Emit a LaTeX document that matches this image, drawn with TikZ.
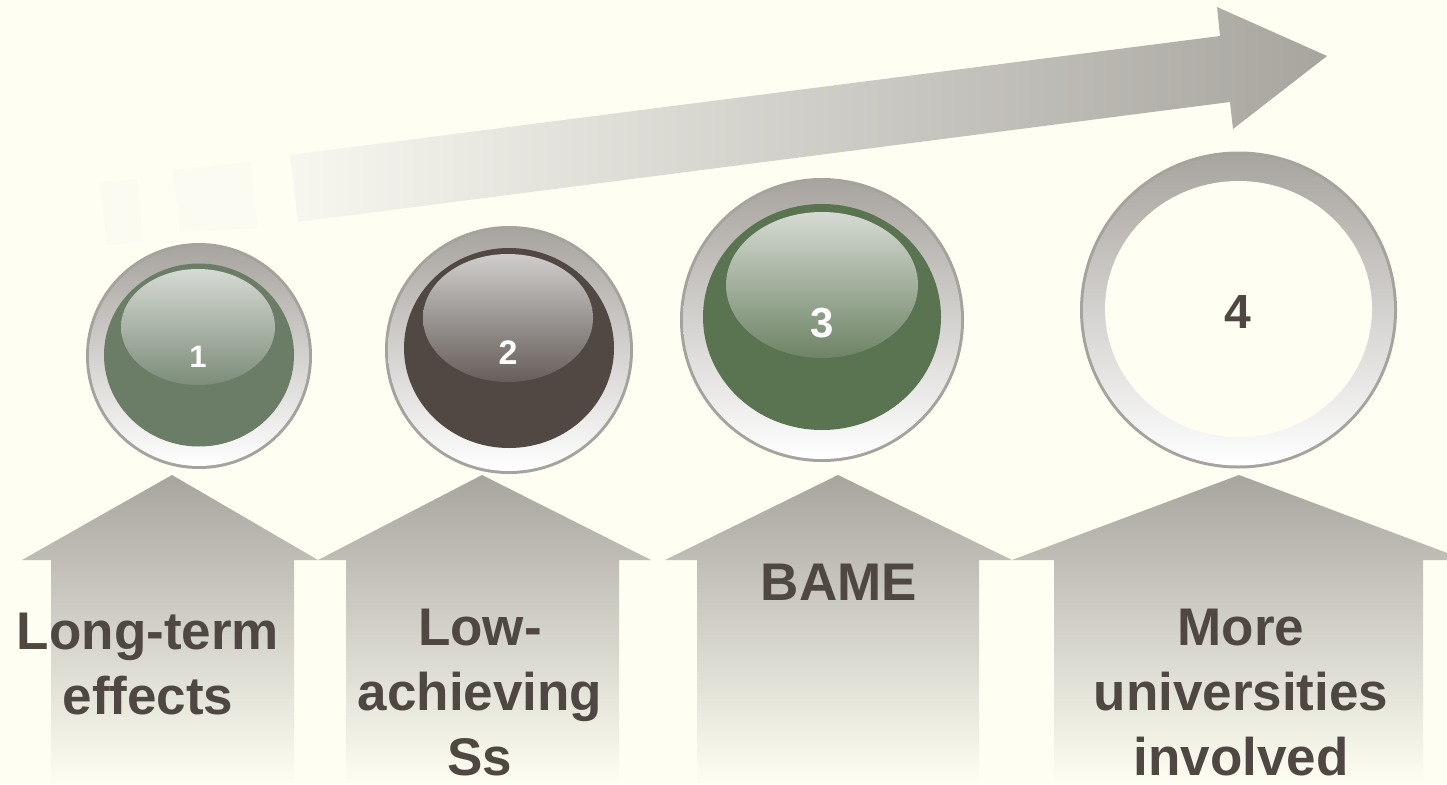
\documentclass[tikz,border=0pt]{standalone}
\usepackage{fontspec}
\setmainfont{Liberation Sans}
\definecolor{bg}{HTML}{FEFEF2}
\definecolor{txt}{HTML}{4F4742}
\definecolor{arrtop}{HTML}{A8A59F}
\definecolor{arrmid}{HTML}{E2E1DA}
\definecolor{bigl}{HTML}{F7F7F0}
\definecolor{bigm}{HTML}{D6D5CF}
\definecolor{ringtop}{HTML}{A8A49F}
\definecolor{ringedge}{HTML}{A6A29D}
\definecolor{baseA}{HTML}{6B7D67}
\definecolor{baseB}{HTML}{514843}
\definecolor{baseC}{HTML}{5A7350}
\definecolor{hlA}{HTML}{D6DAD4}
\definecolor{hlB}{HTML}{CFCDCB}
\definecolor{hlC}{HTML}{D5DAD3}
\definecolor{faint}{HTML}{FBFBF1}
\begin{document}
\begin{tikzpicture}[x=1pt,y=-1pt,
  lbl/.style={font=\bfseries\fontsize{53}{65}\selectfont, text=txt, align=center, inner sep=0pt},
  num/.style={font=\bfseries, inner sep=0pt, anchor=base},
  uparrow/.style={top color=arrtop, middle color=arrmid, bottom color=bg},
  ringouter/.style={fill=ringedge},
  ringinner/.style={top color=ringtop, bottom color=white}]
\fill[bg] (0,0) rectangle (1447,784);
\useasboundingbox (0,0) rectangle (1447,784);

% big rising arrow
\fill[faint] (100,182) -- (137,179) -- (143,242) -- (107,245) -- cycle;
\fill[faint] (173,170) -- (250,162) -- (258,228) -- (180,232) -- cycle;
\shade[left color=bigl, middle color=bigm, right color=arrtop]
  (290,155) -- (1220,36) -- (1217,7) -- (1327,56) -- (1233,129) -- (1230,102) -- (298,222) -- cycle;

% up arrows
\foreach \ax/\hl/\hr/\sl/\sr in {172/22/318/51/294, 482/318/651/346/619, 838/665/1012/697/979, 1239/1012/1466/1054/1423}
  \shade[uparrow] (\ax,475) -- (\hr,560) -- (\sr,560) -- (\sr,784) -- (\sl,784) -- (\sl,560) -- (\hl,560) -- cycle;

% bubble 1
\fill[ringouter] (199,356) circle (113);
\shade[ringinner] (199,356) circle (110);
\fill[baseA] (199,355) ellipse (95 and 91.5);
\shade[top color=hlA, bottom color=baseA!88!white] (198,327) ellipse (77 and 58);
% bubble 2
\fill[ringouter] (509,350) circle (124);
\shade[ringinner] (509,350) circle (121);
\fill[baseB] (509,348) ellipse (105 and 100);
\shade[top color=hlB, bottom color=baseB!88!white] (508,318) ellipse (85 and 64);
% bubble 3
\fill[ringouter] (822,320) circle (142);
\shade[ringinner] (822,320) circle (139);
\fill[baseC] (822,317) ellipse (119 and 113);
\shade[top color=hlC, bottom color=baseC!88!white] (822,285) ellipse (96 and 73);
% bubble 4
\fill[ringouter] (1238.5,310) circle (158.5);
\shade[ringinner] (1238.5,310) circle (155.5);
\fill[bg] (1238.5,309) ellipse (133.5 and 128);

% numbers
\node[num, text=white, font=\bfseries\fontsize{31}{31}\selectfont] (n1) at (198,367) {1};
\node[num, text=white, font=\bfseries\fontsize{34}{34}\selectfont] (n2) at (508,364) {2};
\node[num, text=white, font=\bfseries\fontsize{42}{42}\selectfont] (n3) at (822,337) {3};
\node[num, text=txt, font=\bfseries\fontsize{48}{48}\selectfont] (n4) at (1238,328) {4};

% labels (base anchor = baseline of last line)
\node[lbl, anchor=base] (l1) at (148,714) {Long-term\\effects};
\node[lbl, anchor=base] (l2) at (480,775) {Low-\\achieving\\Ss};
\node[lbl, anchor=base] (l3) at (839,600) {BAME};
\node[lbl, anchor=base] (l4) at (1241,775) {More\\universities\\involved};
\end{tikzpicture}
\end{document}
